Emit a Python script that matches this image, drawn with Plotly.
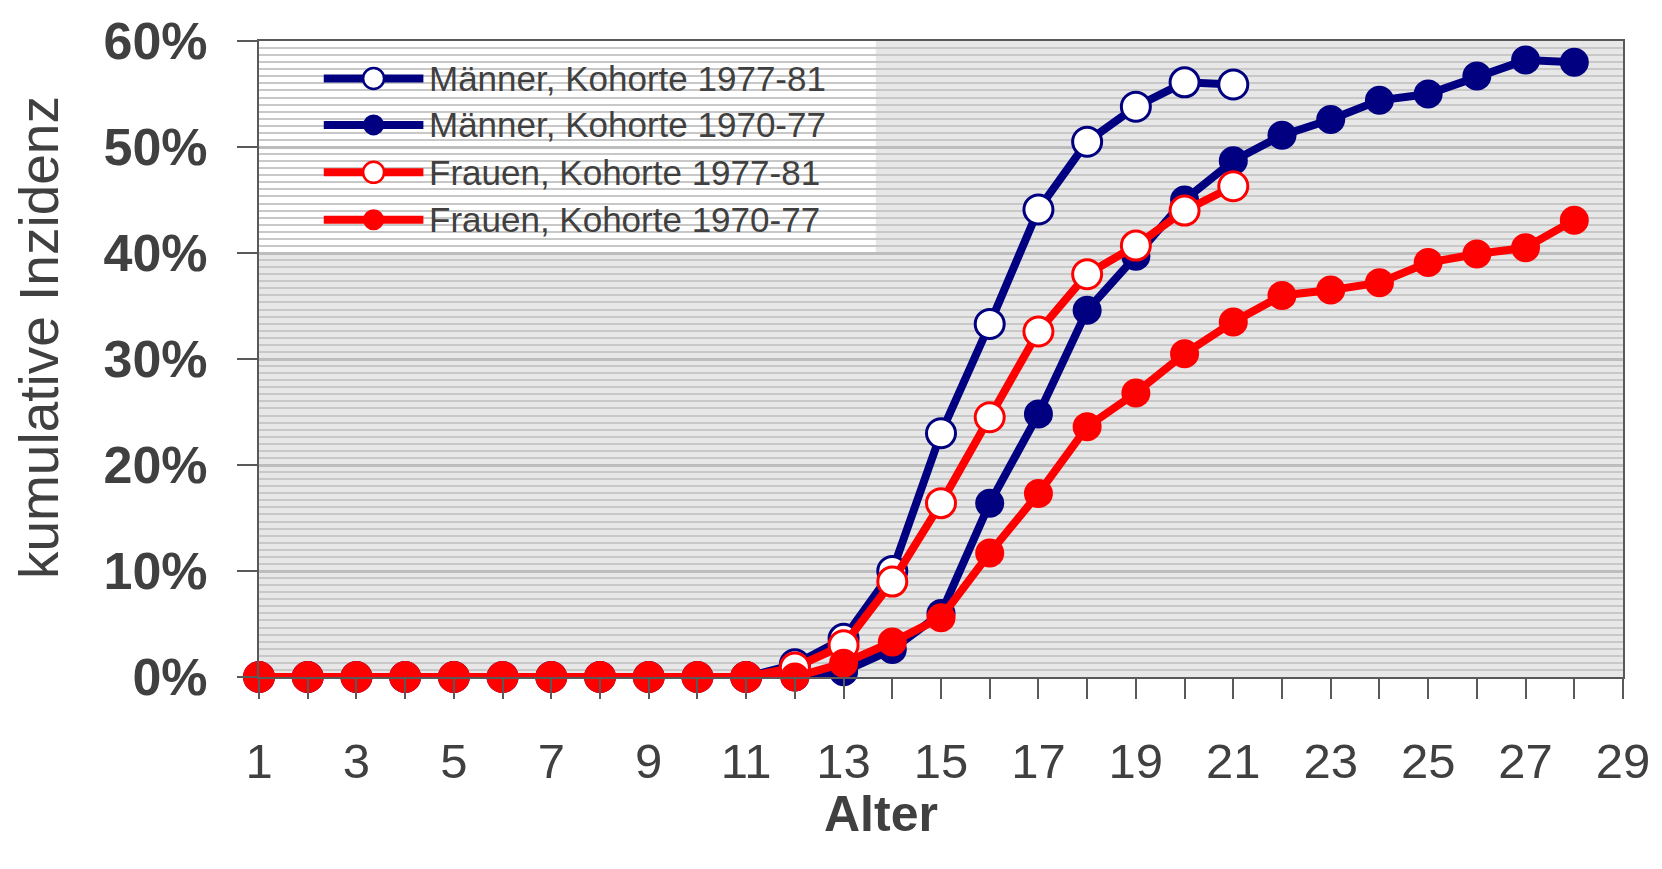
import plotly.graph_objects as go

# Alter (Jahre) und kumulative Inzidenz in Prozent je Kohorte
ages_old = [1, 2, 3, 4, 5, 6, 7, 8, 9, 10, 11, 12, 13, 14, 15, 16, 17, 18, 19, 20,
            21, 22, 23, 24, 25, 26, 27, 28]
ages_young = [1, 2, 3, 4, 5, 6, 7, 8, 9, 10, 11, 12, 13, 14, 15, 16, 17, 18, 19, 20, 21]

maenner_1977_81 = [0, 0, 0, 0, 0, 0, 0, 0, 0, 0, 0, 1.2, 3.6, 10.0, 23.0, 33.3, 44.1,
                   50.5, 53.8, 56.1, 55.9]
maenner_1970_77 = [0, 0, 0, 0, 0, 0, 0, 0, 0, 0, 0, 0, 0.5, 2.6, 6.0, 16.4, 24.8, 34.6,
                   39.7, 45.0, 48.7, 51.1, 52.6, 54.4, 55.0, 56.7, 58.2, 58.0]
frauen_1977_81 = [0, 0, 0, 0, 0, 0, 0, 0, 0, 0, 0, 0.9, 3.0, 9.0, 16.4, 24.5, 32.6, 38.0,
                  40.7, 44.0, 46.3]
frauen_1970_77 = [0, 0, 0, 0, 0, 0, 0, 0, 0, 0, 0, 0, 1.3, 3.3, 5.6, 11.7, 17.3, 23.6,
                  26.8, 30.5, 33.5, 36.0, 36.5, 37.2, 39.1, 39.9, 40.5, 43.1]

series_names = ["Männer, Kohorte 1977-81", "Männer, Kohorte 1970-77",
                "Frauen, Kohorte 1977-81", "Frauen, Kohorte 1970-77"]

x_tickvals = list(range(1, 30))
x_ticktext = [str(v) if v % 2 == 1 else "" for v in x_tickvals]
y_tickvals = [0, 10, 20, 30, 40, 50, 60]
y_ticktext = ["0%", "10%", "20%", "30%", "40%", "50%", "60%"]

NAVY = "#000080"
RED = "#FF0000"
TEXT = "#404040"
AXIS = "#595959"
SANS = "Liberation Sans, Arial, sans-serif"

W, H = 1662, 869
ML, MR, MT, MB = 259, 34, 33, 192
PW, PH = W - ML - MR, H - MT - MB


def px_x(px):
    return (px - ML) / PW


def px_y(py):
    return (H - MB - py) / PH


series = [
    (ages_young, maenner_1977_81, NAVY, True),
    (ages_old, maenner_1970_77, NAVY, False),
    (ages_young, frauen_1977_81, RED, True),
    (ages_old, frauen_1970_77, RED, False),
]

fig = go.Figure()
for (xs, ys, col, hollow), name in zip(series, series_names):
    fig.add_trace(go.Scatter(
        x=xs, y=ys, name=name, mode="lines+markers",
        line=dict(color=col, width=8),
        marker=dict(size=29, color="white" if hollow else col,
                    line=dict(color=col, width=3 if hollow else 0)),
        showlegend=False, cliponaxis=False,
    ))

shapes = []
annotations = []

# weißer Legendenkasten oben links im Diagrammbereich
shapes.append(dict(type="rect", xref="paper", yref="paper", layer="between",
                   x0=0, x1=px_x(878), y0=px_y(249), y1=1,
                   fillcolor="white", line=dict(width=0)))

row_y = [71, 118, 166, 214]
for (xs, ys, col, hollow), name, ry in zip(series, series_names, row_y):
    yy = px_y(ry)
    shapes.append(dict(type="line", xref="paper", yref="paper", layer="above",
                       x0=px_x(324), x1=px_x(424), y0=yy, y1=yy,
                       line=dict(color=col, width=8)))
    shapes.append(dict(type="circle", xref="paper", yref="paper", layer="above",
                       xsizemode="pixel", ysizemode="pixel",
                       xanchor=px_x(374), yanchor=yy,
                       x0=-10.5, x1=10.5, y0=-10.5, y1=10.5,
                       fillcolor="white" if hollow else col,
                       line=dict(color=col, width=2.5 if hollow else 0)))
    annotations.append(dict(xref="paper", yref="paper", x=px_x(428), y=yy,
                            xanchor="left", yanchor="middle", showarrow=False,
                            text=name, font=dict(family=SANS, size=35, color=TEXT)))

annotations.append(dict(xref="paper", yref="paper", x=px_x(883), y=px_y(816),
                        xanchor="center", yanchor="middle", showarrow=False,
                        text="Alter",
                        font=dict(family=SANS, size=50, color=TEXT, weight="bold")))
annotations.append(dict(xref="paper", yref="paper", x=px_x(38), y=px_y(333),
                        xanchor="center", yanchor="middle", showarrow=False,
                        textangle=-90, text="kumulative Inzidenz",
                        font=dict(family=SANS, size=55, color=TEXT)))

fig.update_layout(
    width=W, height=H,
    margin=dict(l=ML, r=MR, t=MT, b=MB, pad=0),
    paper_bgcolor="white",
    plot_bgcolor="#e7e7e7",
    shapes=shapes,
    annotations=annotations,
    showlegend=False,
)

fig.update_xaxes(
    range=[1, 29], tickmode="array", tickvals=x_tickvals, ticktext=x_ticktext,
    showgrid=False, zeroline=False,
    showline=True, linecolor=AXIS, linewidth=2, mirror=True,
    ticks="outside", ticklen=20, tickwidth=2, tickcolor=AXIS,
    tickfont=dict(family=SANS, size=49, color=TEXT),
    ticklabelstandoff=20,
)

fig.update_yaxes(
    range=[0, 60], tickmode="array", tickvals=y_tickvals, ticktext=y_ticktext,
    showgrid=True, gridcolor="#bdbdbd", gridwidth=3, zeroline=False,
    showline=True, linecolor=AXIS, linewidth=2, mirror=True,
    ticks="outside", ticklen=20, tickwidth=2, tickcolor=AXIS,
    tickfont=dict(family=SANS, size=52, color=TEXT, weight="bold"),
    ticklabelstandoff=19,
    minor=dict(dtick=60 / 90, showgrid=True, gridcolor="#c8c8c8", gridwidth=1.5,
               ticks=""),
)

fig.write_html("out.html")
